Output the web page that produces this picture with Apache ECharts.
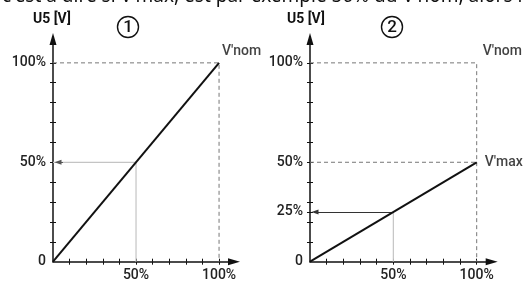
<!DOCTYPE html>
<html>
<head>
<meta charset="utf-8">
<script src="https://cdn.jsdelivr.net/npm/echarts@6/dist/echarts.min.js"></script>
<style>
html, body { margin: 0; padding: 0; background: #fff; }
#main { width: 531px; height: 288px; }
</style>
</head>
<body>
<div id="main"></div>
<script>
//数据
var yPct = [0, 100];          // Y [V] en %
var u5Chart1 = [0, 100];      // U5 graphique 1
var u5Chart2 = [0, 50];       // U5 graphique 2
var xLabelValues = [50, 100];
var yLabelValues1 = [0, 50, 100];
var yLabelValues2 = [0, 25, 50, 100];
var xTickValues = [10, 20, 30, 40, 50, 60, 70, 80, 90, 100];
var yTickValues1 = [10, 20, 30, 40, 50, 60, 70, 80, 90, 100];
var yTickValues2 = [10, 20, 25, 30, 40, 50, 60, 70, 80, 90, 100];
var nomLevel = 100;           // V'nom
var maxLevel2 = 50;           // V'max (graphique 2)
var readX = 50;               // lecture à 50%
var readY1 = 50;
var readY2 = 25;

var FONT = 'Roboto';
var AX_COLOR = '#111';

function pct(v) {
    return v === 0 ? '0' : v + '%';
}

//横坐标
function makeX(grid, inside) {
    return {
        type: 'value', gridIndex: grid, min: 0, max: 109, position: 'bottom',
        axisLine: {
            show: !inside, onZero: false,
            symbol: ['none', 'triangle'], symbolSize: [7, 12],
            lineStyle: { color: AX_COLOR, width: 1.5 }
        },
        axisTick: {
            show: true, inside: inside, length: 3, customValues: xTickValues,
            lineStyle: { color: AX_COLOR, width: 1 }
        },
        axisLabel: {
            show: !inside, customValues: xLabelValues, formatter: pct, margin: 7,
            color: '#222', fontSize: 14, fontWeight: 500, fontFamily: FONT
        },
        splitLine: { show: false }
    };
}

//纵坐标
function makeY(grid, inside, ticks, labels) {
    return {
        type: 'value', gridIndex: grid, min: 0, max: 112, position: 'left',
        axisLine: {
            show: !inside, onZero: false,
            symbol: ['none', 'triangle'], symbolSize: [7, 12],
            lineStyle: { color: AX_COLOR, width: 1.5 }
        },
        axisTick: {
            show: true, inside: inside, length: 3, customValues: ticks,
            lineStyle: { color: AX_COLOR, width: 1 }
        },
        axisLabel: {
            show: !inside, customValues: labels, formatter: pct, margin: 7,
            color: '#222', fontSize: 14, fontWeight: 500, fontFamily: FONT
        },
        splitLine: { show: false }
    };
}

function pairs(xs, ys) {
    var r = [];
    for (var i = 0; i < xs.length; i++) r.push([xs[i], ys[i]]);
    return r;
}

function lineSeries(ax, data, color, width, type, z) {
    return {
        type: 'line', xAxisIndex: ax, yAxisIndex: ax, data: data,
        symbol: 'none', silent: true, animation: false, z: z || 2,
        lineStyle: { color: color, width: width, type: type || 'solid' }
    };
}

//箭头
function arrowSeries(ax, y, fromX, color) {
    return {
        type: 'line', xAxisIndex: ax, yAxisIndex: ax, data: [], silent: true, animation: false,
        markLine: {
            silent: true, animation: false, symbol: ['none', 'triangle'], symbolSize: [5, 7],
            label: { show: false },
            lineStyle: { color: color, width: 1, type: 'solid' },
            data: [[{ coord: [fromX, y] }, { coord: [3, y] }]]
        }
    };
}

function tagSeries(ax, x, y, text, offset) {
    return {
        type: 'scatter', xAxisIndex: ax, yAxisIndex: ax, data: [[x, y]], symbolSize: 0,
        silent: true, animation: false,
        label: {
            show: true, position: 'right', offset: offset, formatter: text,
            color: '#111', fontSize: 14, fontWeight: 500, fontFamily: FONT
        }
    };
}

function circled(cx, cy, digit) {
    return {
        type: 'group', silent: true,
        children: [
            { type: 'circle', shape: { cx: cx, cy: cy, r: 10.5 }, style: { fill: 'none', stroke: '#111', lineWidth: 1.4 } },
            { type: 'text', x: cx, y: cy + 1, style: { text: digit, fill: '#111', font: '500 17px Roboto', align: 'center', verticalAlign: 'middle' } }
        ]
    };
}

var dashGrey = '#777';
var guideGrey = '#c4c4c4';

var option = {
    backgroundColor: '#fff',
    animation: false,
    grid: [
        { left: 53, top: 39, width: 181, height: 222.7 },
        { left: 53, top: 39, width: 181, height: 222.7 },
        { left: 310, top: 39, width: 181.7, height: 222.7 },
        { left: 310, top: 39, width: 181.7, height: 222.7 }
    ],
    xAxis: [makeX(0, false), makeX(1, true), makeX(2, false), makeX(3, true)],
    yAxis: [
        makeY(0, false, yTickValues1, yLabelValues1), makeY(1, true, yTickValues1, yLabelValues1),
        makeY(2, false, yTickValues2, yLabelValues2), makeY(3, true, yTickValues2, yLabelValues2)
    ],
    series: [
        // graphique 1
        lineSeries(0, [[0, nomLevel], [yPct[1], nomLevel], [yPct[1], 0]], dashGrey, 1, [4, 3]),
        lineSeries(0, [[readX, 0], [readX, readY1], [0, readY1]], guideGrey, 1.2),
        arrowSeries(0, readY1, 6, '#555'),
        lineSeries(0, pairs(yPct, u5Chart1), '#111', 2, 'solid', 5),
        tagSeries(0, yPct[1], nomLevel, "V'nom", [-2, -11]),
        // graphique 2
        lineSeries(2, [[0, nomLevel], [yPct[1], nomLevel], [yPct[1], 0]], dashGrey, 1, [4, 3]),
        lineSeries(2, [[0, maxLevel2], [yPct[1], maxLevel2]], dashGrey, 1, [4, 3]),
        lineSeries(2, [[readX, 0], [readX, readY2]], guideGrey, 1.2),
        arrowSeries(2, readY2, readX, '#333'),
        lineSeries(2, pairs(yPct, u5Chart2), '#111', 2, 'solid', 5),
        tagSeries(2, yPct[1], nomLevel, "V'nom", [1, -11]),
        tagSeries(2, yPct[1], maxLevel2, "V'max", [3, 0])
    ],
    graphic: [
        {
            type: 'text', left: 2, top: -13, silent: true,
            style: {
                text: "c'est à dire si V'max, est par exemple 50% du V'nom, alors l",
                fill: '#111', font: '19px "Noto Sans"'
            }
        },
        { type: 'text', left: 33, top: 12, style: { text: 'U5 [V]', fill: '#111', font: 'bold 14px Roboto' } },
        { type: 'text', left: 287, top: 12, style: { text: 'U5 [V]', fill: '#111', font: 'bold 14px Roboto' } },
        circled(128, 27, '1'),
        circled(392, 27, '2')
    ]
};

var myChart = echarts.init(document.getElementById('main'));
myChart.setOption(option);
</script>
</body>
</html>
